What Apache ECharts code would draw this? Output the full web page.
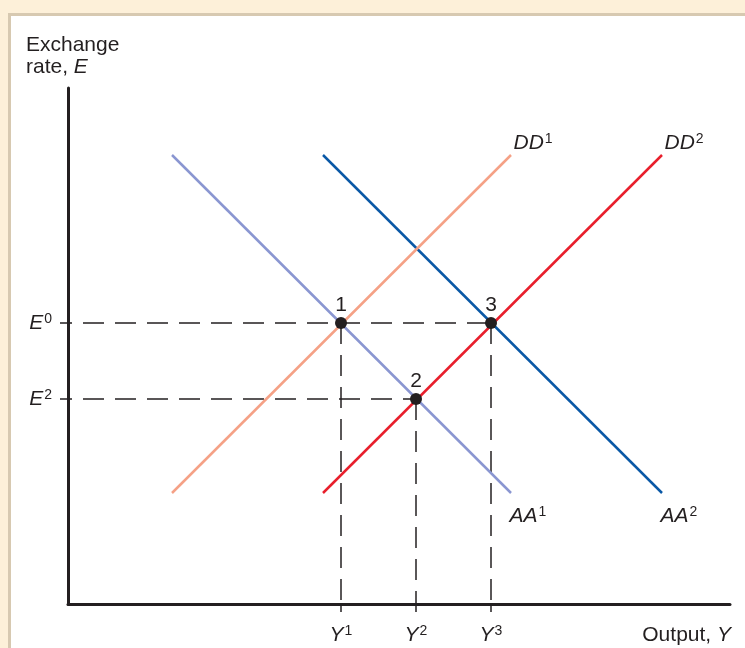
<!DOCTYPE html>
<html><head><meta charset="utf-8">
<script src="https://cdn.jsdelivr.net/npm/echarts@6/dist/echarts.min.js"></script>
<style>
html,body{margin:0;padding:0;background:#fdf0d9;overflow:hidden;}
#panel{position:absolute;left:8px;top:13px;right:0;bottom:0;background:#fff;border-left:3px solid #d7c9b1;border-top:3px solid #d7c9b1;}
#chart{position:absolute;left:0;top:0;width:745px;height:648px;}
</style></head><body><div id="panel"></div><div id="chart"></div>
<script>
// ---- data ----
const curveNames = ['AA1', 'AA2', 'DD1', 'DD2'];
const curveLabels = [['AA', '1'], ['AA', '2'], ['DD', '1'], ['DD', '2']];
const curveX = [[104, 443], [255, 594], [104, 443], [255, 594]];
const curveY = [[449, 111], [449, 111], [111, 449], [111, 449]];
const eqNames = ['1', '2', '3'];
const eqX = [273, 348, 423];
const eqY = [281, 205, 281];
const xTickValues = [273, 348, 423];
const xTickLabels = [['Y', '1'], ['Y', '2'], ['Y', '3']];
const yTickValues = [281, 205];
const yTickLabels = [['E', '0'], ['E', '2']];
const xMax = 662, yMax = 516;

// ---- styles ----
const curveColors = ['#8a96d1', '#0a58a6', '#f5a186', '#e81f2c'];
const ink = '#231f20';
const FONT = 'Liberation Sans, Arial, Helvetica, sans-serif';
const rich = {
  i: { fontFamily: FONT, fontSize: 21, fontStyle: 'italic', color: ink, lineHeight: 22 },
  n: { fontFamily: FONT, fontSize: 21, color: ink, lineHeight: 22 },
  s: { fontFamily: FONT, fontSize: 14, color: ink, verticalAlign: 'top', lineHeight: 14, padding: [0, 0, 0, 1] }
};
const sup = (p) => '{i|' + p[0] + '}{s|' + p[1] + '}';

const series = [];
// guide lines (dashed)
const guideStyle = { color: ink, width: 1.5, type: [21, 11] };
yTickValues.forEach((yv) => {
  let xr = 0;
  eqY.forEach((y, k) => { if (y === yv) xr = Math.max(xr, eqX[k]); });
  series.push({ type: 'line', data: [[0, yv], [xr, yv]], symbol: 'none', silent: true,
    lineStyle: Object.assign({}, guideStyle, { dashOffset: 17 }), z: 1 });
});
eqX.forEach((x, k) => {
  series.push({ type: 'line', data: [[x, eqY[k]], [x, 0]], symbol: 'none', silent: true,
    lineStyle: guideStyle, z: 1 });
});
// curves
curveNames.forEach((nm, k) => {
  const xs = curveX[k], ys = curveY[k];
  const down = ys[1] < ys[0];
  const data = xs.map((x, j) => [x, ys[j]]);
  data[data.length - 1] = {
    value: data[data.length - 1],
    label: { show: true, position: 'right', distance: 0,
      offset: down ? [-2, 23] : [2, -12],
      formatter: sup(curveLabels[k]), rich: rich }
  };
  series.push({ type: 'line', name: nm, data: data, symbol: 'circle', showSymbol: true,
    symbolSize: 1, itemStyle: { color: 'rgba(0,0,0,0)' },
    lineStyle: { color: curveColors[k], width: 2.5 }, z: 2 });
});
// equilibrium points
series.push({ type: 'scatter', data: eqX.map((x, k) => [x, eqY[k]]), symbolSize: 12,
  itemStyle: { color: ink, opacity: 1 }, z: 5,
  label: { show: true, position: 'top', distance: 1, color: ink, fontFamily: FONT, fontSize: 21,
    formatter: (p) => eqNames[p.dataIndex] } });

const chart = echarts.init(document.getElementById('chart'), null, { renderer: 'canvas' });
chart.setOption({
  backgroundColor: 'transparent',
  animation: false,
  grid: { left: 68, top: 88, width: xMax, height: yMax, containLabel: false },
  xAxis: {
    type: 'value', min: 0, max: xMax,
    axisLine: { show: true, onZero: false, lineStyle: { color: ink, width: 3 } },
    axisTick: { show: true, customValues: xTickValues, length: 8, lineStyle: { color: ink, width: 1.5 } },
    axisLabel: { show: true, customValues: xTickValues, margin: 20,
      formatter: (v) => sup(xTickLabels[xTickValues.indexOf(v)]), rich: rich },
    splitLine: { show: false },
    name: '{n|Output, }{i|Y}', nameLocation: 'end', nameGap: 1,
    nameTextStyle: { align: 'right', verticalAlign: 'top', padding: [20, 0, 0, 0], rich: rich }
  },
  yAxis: {
    type: 'value', min: 0, max: yMax,
    axisLine: { show: true, onZero: false, lineStyle: { color: ink, width: 3 } },
    axisTick: { show: true, customValues: yTickValues, length: 8, lineStyle: { color: ink, width: 1.5 } },
    axisLabel: { show: true, customValues: yTickValues, margin: 16,
      formatter: (v) => sup(yTickLabels[yTickValues.indexOf(v)]), rich: rich },
    splitLine: { show: false }
  },
  graphic: [{
    type: 'text', left: 26, top: 35,
    style: { text: '{n|Exchange}\n{n|rate, }{i|E}', rich: rich, fill: ink }
  }],
  series: series
});
</script></body></html>
